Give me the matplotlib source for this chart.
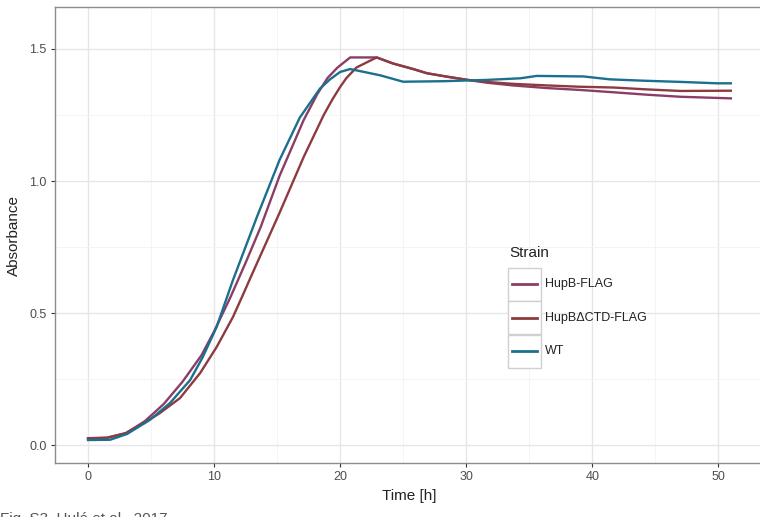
import matplotlib
matplotlib.use('Agg')
import matplotlib.pyplot as plt
from matplotlib.lines import Line2D
from matplotlib.patches import Rectangle
from matplotlib.ticker import MultipleLocator

plt.rcParams['font.family'] = ['Liberation Sans', 'DejaVu Sans']

# growth curves (time in h, absorbance)
t_hupb = [0, 1.5, 3, 4.5, 6, 7.5, 9, 10, 11.3, 12.5, 13.7, 15.2, 16.2, 17.1, 18.2, 19, 19.8, 20.8,
          22.9, 24.2, 25.8, 26.9, 28.5, 30.1, 31.7, 33.7, 36.4, 39, 41.7, 44.3, 47, 51]
a_hupb = [0.025, 0.027, 0.045, 0.09, 0.155, 0.24, 0.34, 0.43, 0.56, 0.69, 0.826, 1.02, 1.13, 1.23,
          1.33, 1.39, 1.43, 1.468, 1.468, 1.445, 1.424, 1.408, 1.395, 1.383, 1.372, 1.362, 1.352,
          1.345, 1.336, 1.327, 1.319, 1.313]

t_dctd = [0, 1.5, 3, 4.5, 5.7, 7.3, 8.9, 10.2, 11.5, 12.3, 12.9, 15.2, 17.1, 18.2, 18.7, 19.4, 20,
          20.5, 21.3, 22.9, 24.2, 25.8, 26.9, 28.5, 30.1, 31.7, 33.7, 36.4, 39, 41.7, 44.3, 47, 51]
a_dctd = [0.026, 0.028, 0.045, 0.085, 0.121, 0.178, 0.273, 0.371, 0.485, 0.57, 0.635, 0.88, 1.09,
          1.2, 1.25, 1.31, 1.356, 1.39, 1.43, 1.468, 1.445, 1.424, 1.408, 1.395, 1.383, 1.375,
          1.368, 1.362, 1.357, 1.354, 1.347, 1.341, 1.342]

t_wt = [0, 1.75, 3.1, 4.9, 6.5, 8.1, 9.1, 10.2, 11.5, 13.4, 15.2, 16.8, 18.4, 19.2, 20, 20.8, 23.2,
        25, 28.2, 31.7, 34.3, 35.6, 39.3, 41.4, 44, 47.2, 49.9, 51]
a_wt = [0.019, 0.02, 0.042, 0.095, 0.159, 0.246, 0.333, 0.447, 0.625, 0.864, 1.08, 1.24, 1.35,
        1.385, 1.413, 1.424, 1.40, 1.376, 1.378, 1.383, 1.389, 1.398, 1.396, 1.385, 1.380, 1.375,
        1.37, 1.37]

strains = ['HupB-FLAG', 'HupB\u0394CTD-FLAG', 'WT']
colors = ['#8c3d66', '#8e3b3f', '#1b6f8f']

W, H = 760, 517
fig = plt.figure(figsize=(W / 100, H / 100), dpi=100)
fig.patch.set_facecolor('white')
ax = fig.add_axes([55 / W, 54 / H, 708 / W, 456 / H])

for (t, a), c, name in zip([(t_hupb, a_hupb), (t_dctd, a_dctd), (t_wt, a_wt)], colors, strains):
    ax.plot(t, a, color=c, lw=1.7, label=name)

ax.set_xlim(-2.62, 53.55)
ax.set_ylim(-0.068, 1.659)
ax.xaxis.set_major_locator(MultipleLocator(10))
ax.xaxis.set_minor_locator(MultipleLocator(5))
ax.yaxis.set_major_locator(MultipleLocator(0.5))
ax.yaxis.set_minor_locator(MultipleLocator(0.25))
ax.yaxis.set_major_formatter(plt.FuncFormatter(lambda v, p: f'{v:.1f}'))
ax.grid(which='major', color='#e6e6e6', lw=1.0)
ax.grid(which='minor', color='#f3f3f3', lw=0.6)
ax.set_axisbelow(True)
for s in ax.spines.values():
    s.set_color('#8c8c8c')
    s.set_linewidth(1.0)
ax.tick_params(which='major', length=3, width=0.8, color='#333333', labelsize=9,
               labelcolor='#4d4d4d', pad=3)
ax.tick_params(which='minor', length=0)
ax.set_xlabel('Time [h]', fontsize=11, labelpad=4, color='#222222')
ax.set_ylabel('Absorbance', fontsize=11, labelpad=6, color='#222222')

# legend drawn in ggplot fashion: grey-bordered key boxes
def px(x, y):
    return x / W, 1 - y / H

fig.text(*px(509, 253), 'Strain', fontsize=11, va='center', ha='left', color='#222222')
for i, (name, c) in enumerate(zip(strains, colors)):
    yc = 284 + i * 33.5
    x0, y0 = px(508, yc + 16.5)
    fig.patches.append(Rectangle((x0, y0), 33 / W, 33 / H, transform=fig.transFigure,
                                 facecolor='white', edgecolor='#d0d0d0', lw=1.0))
    xa, ya = px(512, yc)
    xb, _ = px(537, yc)
    fig.lines.append(Line2D([xa, xb], [ya, ya], transform=fig.transFigure, color=c, lw=2.0))
    fig.text(*px(545, yc), name, fontsize=9, va='center', ha='left', color='#222222')

# caption strip, cut off by the lower edge as in the source image
fig.text(0.0, -0.012, 'Fig. S3. Hul\u00e9 et al., 2017', fontsize=11, color='#555555',
         va='baseline', ha='left')

fig.savefig('out.png', dpi=100)
